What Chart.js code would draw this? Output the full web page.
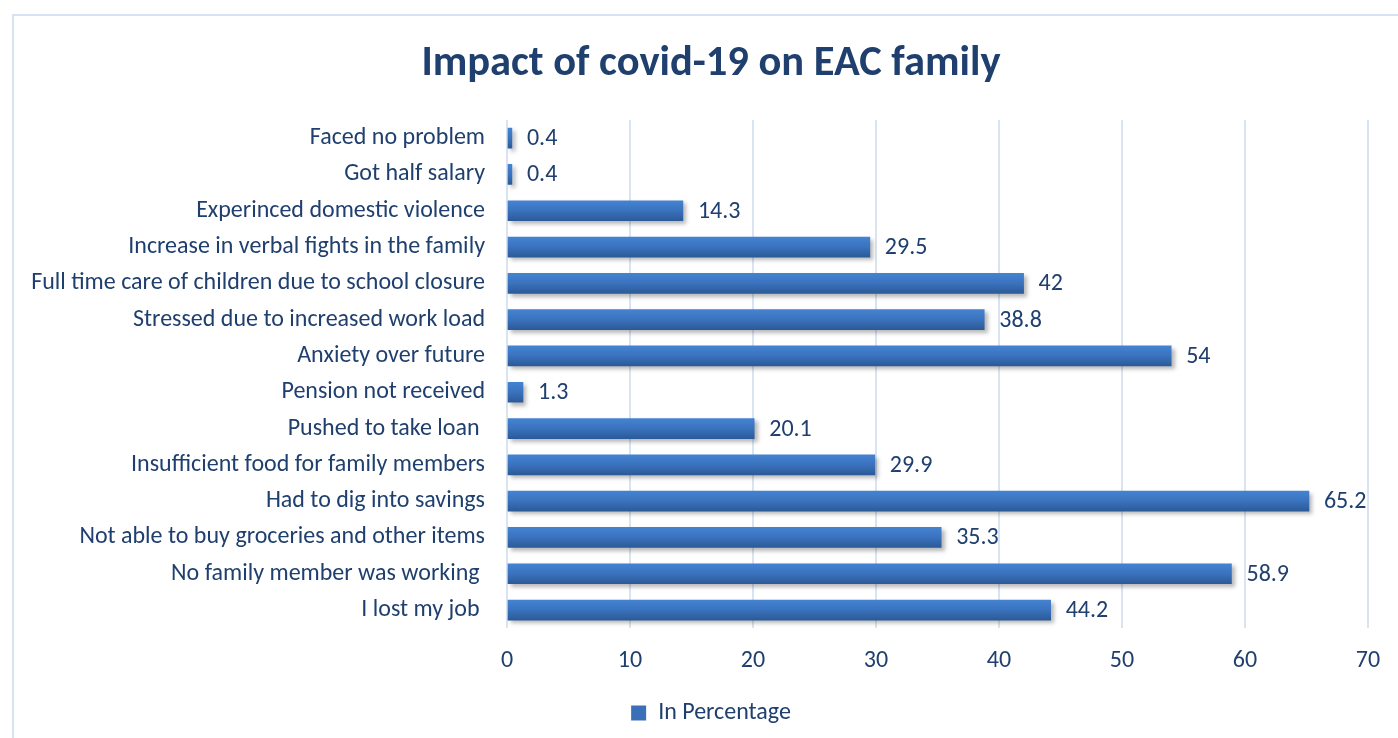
<!DOCTYPE html>
<html>
<head>
<meta charset="utf-8">
<script src="https://cdn.jsdelivr.net/npm/chart.js@4"></script>
<style>
  html, body { margin: 0; padding: 0; background: #fff; overflow: hidden; }
  #frame { position: absolute; left: 12px; top: 14px; width: 1500px; height: 800px; border: 2px solid #d6e3f3; }
  #wrap { position: absolute; left: 0; top: 0; width: 1422px; height: 738px; }
</style>
</head>
<body>
<div id="frame"></div>
<div id="wrap"><canvas id="chart"></canvas></div>
<script>
// Categorias de arriba hacia abajo, tal como aparecen en la figura
const categories = [
  'Faced no problem',
  'Got half salary',
  'Experinced domestic violence',
  'Increase in verbal fights in the family',
  'Full time care of children due to school closure',
  'Stressed due to increased work load',
  'Anxiety over future',
  'Pension not received',
  'Pushed to take loan ',
  'Insufficient food for family members',
  'Had to dig into savings',
  'Not able to buy groceries and other items',
  'No family member was working ',
  'I lost my job '
];
const percentValues = [0.4, 0.4, 14.3, 29.5, 42, 38.8, 54, 1.3, 20.1, 29.9, 65.2, 35.3, 58.9, 44.2];
const xTicks = [0, 10, 20, 30, 40, 50, 60, 70];

const textColor = '#1f3f6e';
const fontFamily = 'Carlito, Lato, "Open Sans", sans-serif';

// Sombra suave bajo las barras
const barShadow = {
  id: 'barShadow',
  beforeDatasetsDraw(chart) {
    const ctx = chart.ctx;
    ctx.save();
    ctx.shadowColor = 'rgba(0,0,0,0.28)';
    ctx.shadowBlur = 4;
    ctx.shadowOffsetX = 3;
    ctx.shadowOffsetY = 3;
  },
  afterDatasetsDraw(chart) {
    chart.ctx.restore();
  }
};

// Etiquetas de valor al final de cada barra
const valueLabels = {
  id: 'valueLabels',
  afterDatasetsDraw(chart) {
    const ctx = chart.ctx;
    const meta = chart.getDatasetMeta(0);
    ctx.save();
    ctx.fillStyle = textColor;
    ctx.font = '24px ' + fontFamily;
    ctx.textAlign = 'left';
    ctx.textBaseline = 'middle';
    meta.data.forEach((bar, i) => {
      ctx.fillText(String(percentValues[i]), bar.x + 15, bar.y + 1);
    });
    ctx.restore();
  }
};

function barGradient(context) {
  const chart = context.chart;
  const yScale = chart.scales.y;
  if (!yScale || context.dataIndex === undefined) return '#3a70b8';
  const cy = yScale.getPixelForValue(context.dataIndex);
  const g = chart.ctx.createLinearGradient(0, cy - 10, 0, cy + 10);
  g.addColorStop(0, '#4483d2');
  g.addColorStop(0.5, '#3a72bd');
  g.addColorStop(1, '#2c5a98');
  return g;
}

new Chart(document.getElementById('chart'), {
  type: 'bar',
  data: {
    labels: categories,
    datasets: [{
      label: 'In Percentage',
      data: percentValues,
      backgroundColor: barGradient,
      borderWidth: 0,
      barThickness: 20
    }]
  },
  options: {
    indexAxis: 'y',
    responsive: true,
    maintainAspectRatio: false,
    animation: false,
    layout: { padding: { left: 0, right: 0, top: 0, bottom: 3 } },
    plugins: {
      title: {
        display: true,
        text: 'Impact of covid-19 on EAC family',
        color: textColor,
        font: { family: fontFamily, size: 42.5, weight: 'bold' },
        padding: { top: 39, bottom: 30 }
      },
      legend: {
        display: true,
        position: 'bottom',
        labels: {
          color: textColor,
          font: { family: fontFamily, size: 24 },
          boxWidth: 15,
          boxHeight: 15,
          padding: 8,
          generateLabels: () => [{
            text: 'In Percentage',
            fillStyle: '#3a70b8',
            strokeStyle: '#3a70b8',
            lineWidth: 0,
            fontColor: textColor,
            datasetIndex: 0
          }]
        }
      },
      tooltip: { enabled: false }
    },
    scales: {
      x: {
        min: 0,
        max: 70,
        afterBuildTicks: (scale) => { scale.ticks = xTicks.map(v => ({ value: v })); },
        grid: { color: '#d9e4f2', lineWidth: 2, drawTicks: false },
        border: { display: false },
        ticks: {
          color: textColor,
          font: { family: fontFamily, size: 24 },
          padding: 18
        }
      },
      y: {
        afterFit: (scale) => { scale.width = 507; },
        grid: { display: false, drawTicks: false },
        border: { display: false },
        ticks: {
          color: textColor,
          font: { family: fontFamily, size: 24 },
          padding: 22,
          autoSkip: false
        }
      },
      // eje vacio a la derecha, solo reserva el margen
      yRight: {
        type: 'category',
        position: 'right',
        afterFit: (scale) => { scale.width = 54; },
        grid: { display: false, drawTicks: false },
        border: { display: false },
        ticks: { display: false }
      }
    }
  },
  plugins: [barShadow, valueLabels]
});
</script>
</body>
</html>
